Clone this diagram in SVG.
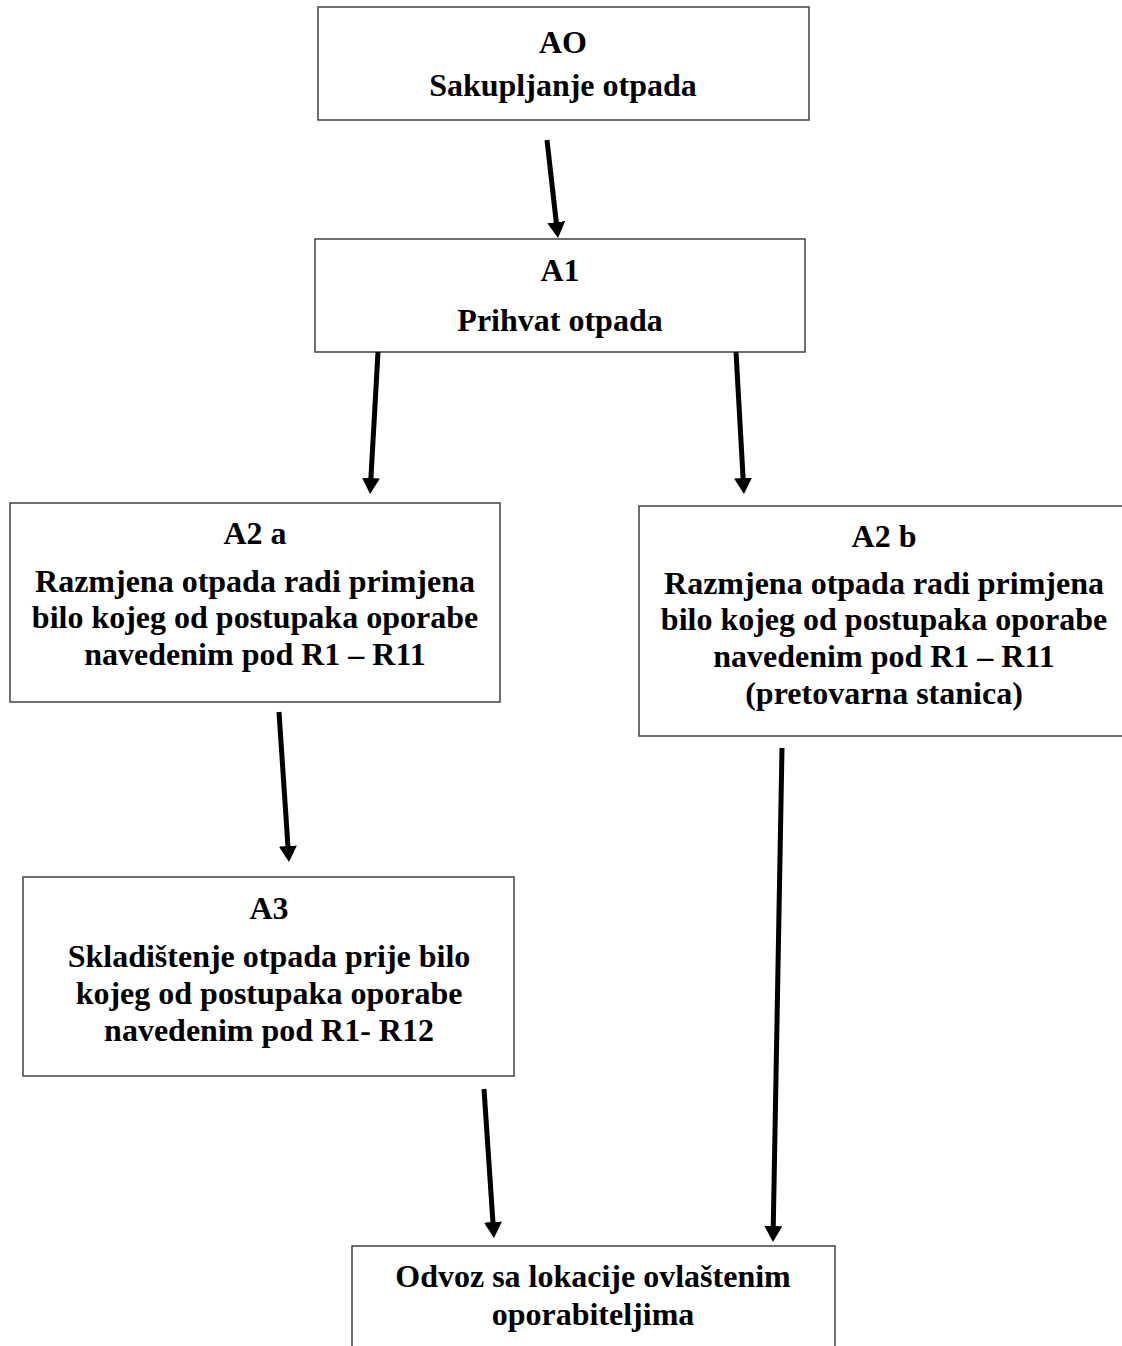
<svg xmlns="http://www.w3.org/2000/svg" width="1122" height="1346" viewBox="0 0 1122 1346">
<style>
.box{fill:#fff;stroke:#404040;stroke-width:1.5}
.t{font-family:"Liberation Serif","Times New Roman",serif;font-weight:bold;font-size:32px;fill:#000;text-anchor:middle}
.c{stroke:#000;stroke-width:5;fill:none;marker-end:url(#ah)}
</style>
<defs>
<marker id="ah" markerUnits="userSpaceOnUse" markerWidth="16" markerHeight="18" viewBox="0 0 16 18" refX="4" refY="9" orient="auto">
<path d="M0,0 L16,9 L0,18 z" fill="#000"/>
</marker>
</defs>
<rect width="1122" height="1346" fill="#fff"/>
<g id="n-ao">
<rect class="box" x="318" y="7" width="491" height="113"/>
<text class="t" x="563" y="53">AO</text>
<text class="t" x="563" y="96">Sakupljanje otpada</text>
</g>
<g id="n-a1">
<rect class="box" x="315" y="239" width="490" height="113"/>
<text class="t" x="560" y="281">A1</text>
<text class="t" x="560" y="331">Prihvat otpada</text>
</g>
<g id="n-a2a">
<rect class="box" x="10" y="503" width="490" height="199"/>
<text class="t" x="255" y="544">A2 a</text>
<text class="t" x="255" y="592">Razmjena otpada radi primjena</text>
<text class="t" x="255" y="628">bilo kojeg od postupaka oporabe</text>
<text class="t" x="255" y="665">navedenim pod R1 – R11</text>
</g>
<g id="n-a2b">
<rect class="box" x="639" y="506" width="490" height="230"/>
<text class="t" x="884" y="547">A2 b</text>
<text class="t" x="884" y="594">Razmjena otpada radi primjena</text>
<text class="t" x="884" y="630">bilo kojeg od postupaka oporabe</text>
<text class="t" x="884" y="667">navedenim pod R1 – R11</text>
<text class="t" x="884" y="704">(pretovarna stanica)</text>
</g>
<g id="n-a3">
<rect class="box" x="23" y="877" width="491" height="199"/>
<text class="t" x="269" y="919">A3</text>
<text class="t" x="269" y="967">Skladištenje otpada prije bilo</text>
<text class="t" x="269" y="1004">kojeg od postupaka oporabe</text>
<text class="t" x="269" y="1041">navedenim pod R1- R12</text>
</g>
<g id="n-odvoz">
<rect class="box" x="352" y="1246" width="483" height="120"/>
<text class="t" x="593" y="1287">Odvoz sa lokacije ovlaštenim</text>
<text class="t" x="593" y="1325">oporabiteljima</text>
</g>
<g id="connectors">
<line class="c" x1="547" y1="140" x2="556.7" y2="226.1"/>
<line class="c" x1="378" y1="352" x2="370.7" y2="482"/>
<line class="c" x1="736" y1="352" x2="743.3" y2="482"/>
<line class="c" x1="279" y1="712" x2="288.2" y2="850"/>
<line class="c" x1="484" y1="1089" x2="493.2" y2="1226"/>
<line class="c" x1="782" y1="748" x2="773.2" y2="1230"/>
</g>
</svg>
